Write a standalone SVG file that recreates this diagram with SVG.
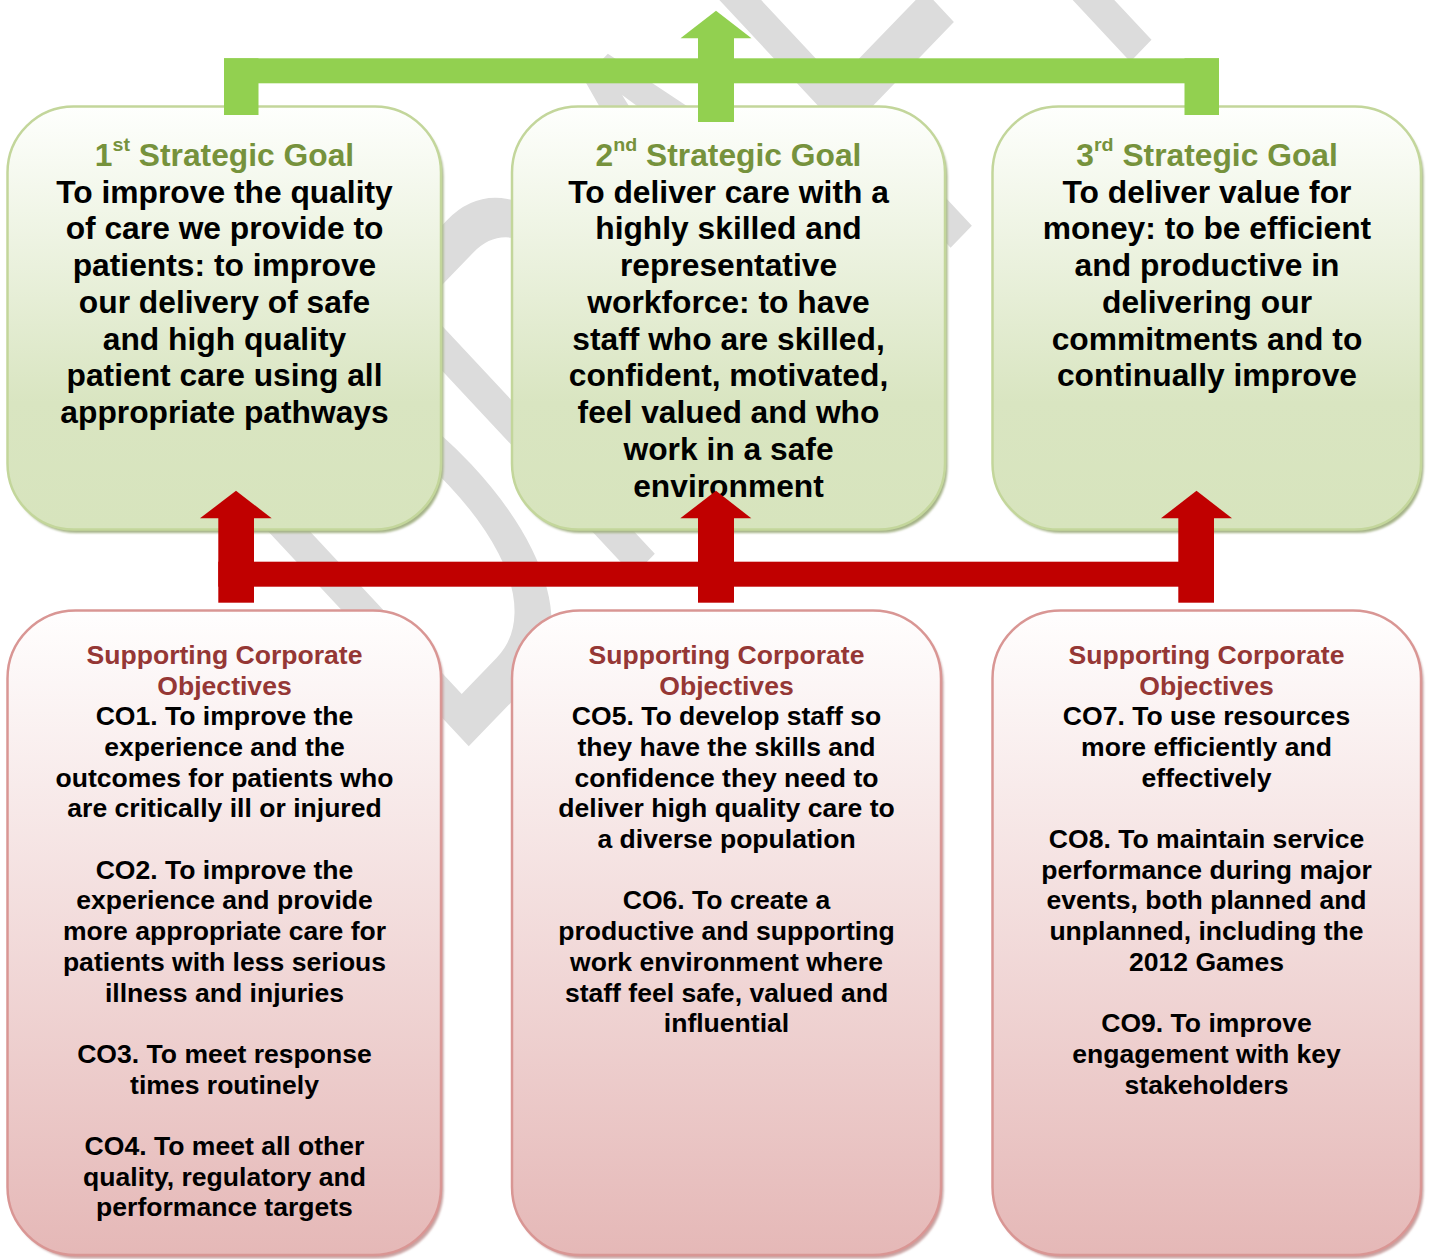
<svg xmlns="http://www.w3.org/2000/svg" width="1430" height="1259" viewBox="0 0 1430 1259">
  <defs>
    <linearGradient id="gGreen" x1="0" y1="0" x2="0" y2="1">
      <stop offset="0" stop-color="#fefffd"/>
      <stop offset="0.7" stop-color="#d9e5c1"/>
      <stop offset="1" stop-color="#d7e4bd"/>
    </linearGradient>
    <linearGradient id="gRed" x1="0" y1="0" x2="0" y2="1">
      <stop offset="0" stop-color="#fffefe"/>
      <stop offset="1" stop-color="#e5b8b7"/>
    </linearGradient>
    <filter id="soft" x="-5%" y="-5%" width="110%" height="110%">
      <feGaussianBlur stdDeviation="0.9"/>
    </filter>
    <style>
      .watermark { font-family: "Liberation Sans", Arial, sans-serif; font-size: 587px; fill: #dcdcdc; }
      .goal { fill: url(#gGreen); stroke: #c3d69b; stroke-width: 2.5; }
      .goal-shadow { fill: #a6b488; filter: url(#soft); }
      .obj { fill: url(#gRed); stroke: #d99694; stroke-width: 2.5; }
      .obj-shadow { fill: #c9a2a1; filter: url(#soft); }
      .gtxt { font-family: "Liberation Sans", Arial, sans-serif; font-weight: bold; font-size: 30.7px; text-anchor: middle; fill: #000000; }
      .gtitle { fill: #76923c; }
      .sup { font-size: 19px; }
      .otxt { font-family: "Liberation Sans", Arial, sans-serif; font-weight: bold; font-size: 25.8px; text-anchor: middle; fill: #000000; }
      .otitle { fill: #953735; }
      .green { fill: #92d050; }
      .red { fill: #c00000; }
    </style>
  </defs>

  <rect width="1430" height="1259" fill="#ffffff"/>

  <!-- background watermark, slanted and condensed -->
  <text class="watermark" transform="matrix(0.3888 -0.4023 0.645 0.691 450 765.7)" x="0" y="0">DRAFT</text>

  <!-- strategic goals -->
  <g id="goal1">
    <rect class="goal-shadow" x="10" y="110" width="433.5" height="423" rx="66"/>
    <rect class="goal" x="7.5" y="106.5" width="433.5" height="423" rx="66"/>
    <g transform="translate(224.5 0) scale(1.035 1)">
      <text class="gtxt gtitle" x="0" y="165.7">1<tspan class="sup" dy="-15">st</tspan><tspan dy="15"> Strategic Goal</tspan></text>
      <text class="gtxt" x="0" y="202.7">To improve the quality</text>
      <text class="gtxt" x="0" y="239.45">of care we provide to</text>
      <text class="gtxt" x="0" y="276.2">patients: to improve</text>
      <text class="gtxt" x="0" y="312.95">our delivery of safe</text>
      <text class="gtxt" x="0" y="349.7">and high quality</text>
      <text class="gtxt" x="0" y="386.45">patient care using all</text>
      <text class="gtxt" x="0" y="423.2">appropriate pathways</text>
    </g>
  </g>

  <g id="goal2">
    <rect class="goal-shadow" x="514.5" y="110" width="433" height="423" rx="66"/>
    <rect class="goal" x="512" y="106.5" width="433" height="423" rx="66"/>
    <g transform="translate(728.5 0) scale(1.035 1)">
      <text class="gtxt gtitle" x="0" y="165.7">2<tspan class="sup" dy="-15">nd</tspan><tspan dy="15"> Strategic Goal</tspan></text>
      <text class="gtxt" x="0" y="202.7">To deliver care with a</text>
      <text class="gtxt" x="0" y="239.45">highly skilled and</text>
      <text class="gtxt" x="0" y="276.2">representative</text>
      <text class="gtxt" x="0" y="312.95">workforce: to have</text>
      <text class="gtxt" x="0" y="349.7">staff who are skilled,</text>
      <text class="gtxt" x="0" y="386.45">confident, motivated,</text>
      <text class="gtxt" x="0" y="423.2">feel valued and who</text>
      <text class="gtxt" x="0" y="459.95">work in a safe</text>
      <text class="gtxt" x="0" y="496.7">environment</text>
    </g>
  </g>

  <g id="goal3">
    <rect class="goal-shadow" x="995" y="110" width="428.5" height="423" rx="66"/>
    <rect class="goal" x="992.5" y="106.5" width="428.5" height="423" rx="66"/>
    <g transform="translate(1207 0) scale(1.035 1)">
      <text class="gtxt gtitle" x="0" y="165.7">3<tspan class="sup" dy="-15">rd</tspan><tspan dy="15"> Strategic Goal</tspan></text>
      <text class="gtxt" x="0" y="202.7">To deliver value for</text>
      <text class="gtxt" x="0" y="239.45">money: to be efficient</text>
      <text class="gtxt" x="0" y="276.2">and productive in</text>
      <text class="gtxt" x="0" y="312.95">delivering our</text>
      <text class="gtxt" x="0" y="349.7">commitments and to</text>
      <text class="gtxt" x="0" y="386.45">continually improve</text>
    </g>
  </g>

  <!-- supporting corporate objectives -->
  <g id="objectives1">
    <rect class="obj-shadow" x="10" y="614" width="433.5" height="644.5" rx="68"/>
    <rect class="obj" x="7.5" y="610.5" width="433.5" height="644.5" rx="68"/>
    <g transform="translate(224.5 0) scale(1.03 1)">
      <text class="otxt otitle" x="0" y="664">Supporting Corporate</text>
      <text class="otxt otitle" x="0" y="694.7">Objectives</text>
      <text class="otxt" x="0" y="725.4">CO1. To improve the</text>
      <text class="otxt" x="0" y="756.1">experience and the</text>
      <text class="otxt" x="0" y="786.8">outcomes for patients who</text>
      <text class="otxt" x="0" y="817.5">are critically ill or injured</text>
      <text class="otxt" x="0" y="878.8">CO2. To improve the</text>
      <text class="otxt" x="0" y="909.5">experience and provide</text>
      <text class="otxt" x="0" y="940.2">more appropriate care for</text>
      <text class="otxt" x="0" y="970.9">patients with less serious</text>
      <text class="otxt" x="0" y="1001.6">illness and injuries</text>
      <text class="otxt" x="0" y="1063">CO3. To meet response</text>
      <text class="otxt" x="0" y="1093.7">times routinely</text>
      <text class="otxt" x="0" y="1155">CO4. To meet all other</text>
      <text class="otxt" x="0" y="1185.7">quality, regulatory and</text>
      <text class="otxt" x="0" y="1216.4">performance targets</text>
    </g>
  </g>

  <g id="objectives2">
    <rect class="obj-shadow" x="514.5" y="614" width="429" height="644.5" rx="68"/>
    <rect class="obj" x="512" y="610.5" width="429" height="644.5" rx="68"/>
    <g transform="translate(726.5 0) scale(1.03 1)">
      <text class="otxt otitle" x="0" y="664">Supporting Corporate</text>
      <text class="otxt otitle" x="0" y="694.7">Objectives</text>
      <text class="otxt" x="0" y="725.4">CO5. To develop staff so</text>
      <text class="otxt" x="0" y="756.1">they have the skills and</text>
      <text class="otxt" x="0" y="786.8">confidence they need to</text>
      <text class="otxt" x="0" y="817.5">deliver high quality care to</text>
      <text class="otxt" x="0" y="848.1">a diverse population</text>
      <text class="otxt" x="0" y="909.5">CO6. To create a</text>
      <text class="otxt" x="0" y="940.2">productive and supporting</text>
      <text class="otxt" x="0" y="970.9">work environment where</text>
      <text class="otxt" x="0" y="1001.6">staff feel safe, valued and</text>
      <text class="otxt" x="0" y="1032.3">influential</text>
    </g>
  </g>

  <g id="objectives3">
    <rect class="obj-shadow" x="995" y="614" width="428.5" height="644.5" rx="68"/>
    <rect class="obj" x="992.5" y="610.5" width="428.5" height="644.5" rx="68"/>
    <g transform="translate(1206.5 0) scale(1.03 1)">
      <text class="otxt otitle" x="0" y="664">Supporting Corporate</text>
      <text class="otxt otitle" x="0" y="694.7">Objectives</text>
      <text class="otxt" x="0" y="725.4">CO7. To use resources</text>
      <text class="otxt" x="0" y="756.1">more efficiently and</text>
      <text class="otxt" x="0" y="786.8">effectively</text>
      <text class="otxt" x="0" y="848.1">CO8. To maintain service</text>
      <text class="otxt" x="0" y="878.8">performance during major</text>
      <text class="otxt" x="0" y="909.5">events, both planned and</text>
      <text class="otxt" x="0" y="940.2">unplanned, including the</text>
      <text class="otxt" x="0" y="970.9">2012 Games</text>
      <text class="otxt" x="0" y="1032.3">CO9. To improve</text>
      <text class="otxt" x="0" y="1063">engagement with key</text>
      <text class="otxt" x="0" y="1093.7">stakeholders</text>
    </g>
  </g>

  <!-- connectors: goals feed upward into the top arrow, objectives into the goals -->
  <g id="connectors">
    <g id="goal-link" class="green">
      <rect x="224" y="58.3" width="995" height="25"/>
      <rect x="224" y="58.3" width="34.5" height="56.7"/>
      <rect x="1184.5" y="58.3" width="34.5" height="56.7"/>
      <rect x="698" y="38" width="36" height="84"/>
      <polygon points="680.5,38.3 716,10.7 751.5,38.3"/>
    </g>
    <g id="objective-link" class="red">
      <rect x="218.3" y="561.7" width="995.7" height="25"/>
      <rect x="218.3" y="518" width="35.7" height="84.7"/>
      <rect x="698" y="518" width="36" height="84.7"/>
      <rect x="1178.3" y="518" width="35.7" height="84.7"/>
      <polygon points="200,518.3 236,490.7 271.7,518.3"/>
      <polygon points="680.3,518.3 716,490.7 751.3,518.3"/>
      <polygon points="1161,518.3 1196.5,490.7 1232,518.3"/>
    </g>
  </g>
</svg>
